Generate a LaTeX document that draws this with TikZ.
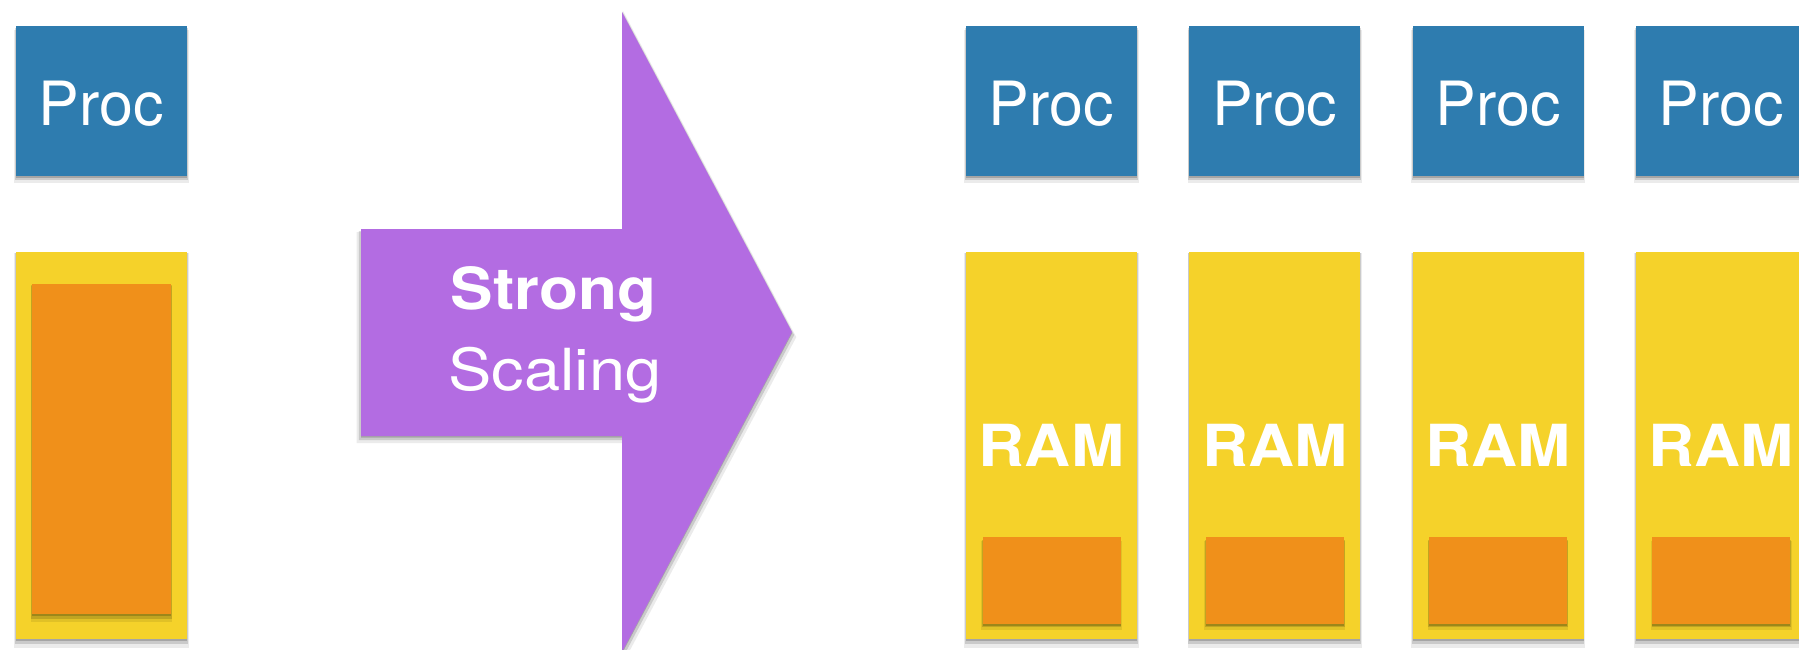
\documentclass[tikz,border=0pt]{standalone}
\usepackage{fontspec}
\setmainfont{TeX Gyre Heros}
\usetikzlibrary{shadows}
\definecolor{procblue}{HTML}{2E7CAF}
\definecolor{ramyellow}{HTML}{F5D22A}
\definecolor{dataorange}{HTML}{F0901A}
\definecolor{arrowpurple}{HTML}{B36CE2}
\tikzset{
  softshadow/.style={
    drop shadow={shadow xshift=0pt, shadow yshift=-1.5pt, opacity=0.18, fill=black},
    drop shadow={shadow xshift=0pt, shadow yshift=-3pt, shadow scale=1.01, opacity=0.14, fill=black},
    drop shadow={shadow xshift=0pt, shadow yshift=-5pt, shadow scale=1.02, opacity=0.08, fill=black}},
  procbox/.style={fill=procblue, softshadow, minimum width=171pt, minimum height=150pt, inner sep=0pt},
  rambox/.style={fill=ramyellow, softshadow, minimum width=171pt, minimum height=387pt, inner sep=0pt},
  bigchunk/.style={fill=dataorange, softshadow, minimum width=139pt, minimum height=330pt, inner sep=0pt},
  chunk/.style={fill=dataorange, softshadow, minimum width=138pt, minimum height=87pt, inner sep=0pt},
  proctext/.style={text=white, font=\fontsize{61}{61}\selectfont, anchor=base, inner sep=0pt},
  boldtext/.style={text=white, font=\fontsize{58}{58}\selectfont\bfseries, anchor=base,
    inner sep=0pt, xscale=1.1},
  lighttext/.style={text=white, font=\fontsize{58}{58}\selectfont, anchor=base,
    inner sep=0pt, xscale=1.12},
}
\begin{document}
\begin{tikzpicture}[x=1pt, y=-1pt]
\useasboundingbox (0,0) rectangle (1799,650);

% single processor with the whole problem in its memory
\node[procbox] (p0) at (101.5,101) {};
\node[proctext] (pt0) at (101.5,126) {Proc};
\node[rambox] (r0) at (101.5,445.5) {};
\node[bigchunk] (d0) at (101.5,449) {};

% the scaling arrow
\fill[arrowpurple, softshadow] (361,229) -- (622,229) -- (622,12) -- (792,332)
  -- (622,652) -- (622,436) -- (361,436) -- cycle;
\node[boldtext] (s1) at (553.5,309.5) {Strong};
\node[lighttext] (s2) at (555,390) {Scaling};

% four processors, each holding a quarter of the problem
\foreach \i in {1,...,4} {
  \pgfmathsetmacro{\cx}{1051.5+223.3*(\i-1)}
  \node[procbox] (p\i) at (\cx,101) {};
  \node[proctext] (pt\i) at (\cx,126) {Proc};
  \node[rambox] (r\i) at (\cx,445.5) {};
  \node[boldtext] (t\i) at (\cx,466) {RAM};
  \node[chunk] (d\i) at (\cx,580.5) {};
}
\end{tikzpicture}
\end{document}
